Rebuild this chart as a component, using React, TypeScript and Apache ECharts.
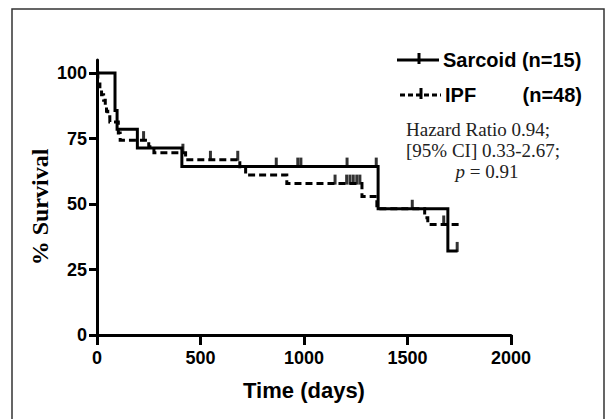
import React, { useEffect, useRef } from "react";
import * as echarts from "echarts";

// Kaplan-Meier steps (time in days, % survival)
const sarcoidTimes = [0, 87, 97, 195, 410, 1358, 1695, 1742];
const sarcoidSurv = [100, 85.7, 78.6, 71.4, 64.3, 48.2, 32.1, 32.1];
const sarcoidCensorTimes = [866, 970, 985, 1208, 1349, 1523, 1740];
const sarcoidCensorSurv = [64.3, 64.3, 64.3, 64.3, 64.3, 48.2, 32.1];

const ipfTimes = [0, 4, 8, 14, 22, 32, 40, 46, 52, 62, 103, 112, 250, 275, 428, 690, 718, 917, 1280, 1352, 1583, 1598, 1760];
const ipfSurv = [100, 97.9, 95.8, 93.8, 91.7, 89.6, 87.5, 85.4, 83.3, 81.3, 77.1, 74.4, 71.9, 69.6, 66.9, 64.2, 61.1, 57.8, 52.9, 48.2, 44.8, 42.2, 42.2];
const ipfCensorTimes = [225, 415, 548, 680, 1150, 1206, 1222, 1238, 1255, 1270, 1675];
const ipfCensorSurv = [74.4, 69.6, 66.9, 66.9, 57.8, 57.8, 57.8, 57.8, 57.8, 57.8, 42.2];

const yTicks = [0, 25, 50, 75, 100];

const zip = (a: number[], b: number[]) => a.map((v, i) => [v, b[i]]);

const SANS = "'Liberation Sans', Arial, sans-serif";
const SERIF = "'Liberation Serif', 'Times New Roman', serif";

export default function App() {
  const ref = useRef<HTMLDivElement>(null);
  useEffect(() => {
    if (!ref.current) return;
    const chart = echarts.init(ref.current, undefined, { renderer: "svg" });
    const censorSeries = (name: string, t: number[], s: number[]) => ({
      type: "scatter",
      name,
      data: zip(t, s),
      symbol: "rect",
      symbolSize: [3, 10],
      symbolOffset: [0, -4],
      itemStyle: { color: "#000" },
      silent: true,
      z: 3,
    });
    chart.setOption({
      animation: false,
      backgroundColor: "#fff",
      grid: { left: 97, right: 99, top: 60, bottom: 84, outerBoundsMode: "none" },
      xAxis: {
        type: "value",
        min: 0,
        max: 2000,
        interval: 500,
        name: "Time (days)",
        nameLocation: "middle",
        nameGap: 44,
        nameTextStyle: { fontFamily: SANS, fontWeight: "bold", fontSize: 22, color: "#000" },
        axisLine: { show: true, lineStyle: { color: "#000", width: 3 } },
        axisTick: { show: true, length: 10, lineStyle: { color: "#000", width: 3 } },
        axisLabel: {
          fontFamily: SANS,
          fontWeight: "bold",
          fontSize: 18,
          color: "#000",
          margin: 14,
          formatter: (v: number) => String(v),
        },
        splitLine: { show: false },
      },
      yAxis: {
        type: "value",
        min: 0,
        max: 105,
        axisLine: { show: true, lineStyle: { color: "#000", width: 3 } },
        axisTick: { show: true, length: 8, customValues: yTicks, lineStyle: { color: "#000", width: 3 } },
        axisLabel: {
          fontFamily: SANS,
          fontWeight: "bold",
          fontSize: 18,
          color: "#000",
          margin: 10,
          customValues: yTicks,
          formatter: (v: number) => String(v),
        },
        splitLine: { show: false },
      },
      series: [
        {
          type: "line",
          name: "Sarcoid (n=15)",
          step: "end",
          data: zip(sarcoidTimes, sarcoidSurv),
          showSymbol: false,
          symbol: "none",
          lineStyle: { color: "#000", width: 3, join: "miter", cap: "butt" },
          z: 2,
        },
        {
          type: "line",
          name: "IPF (n=48)",
          step: "end",
          data: zip(ipfTimes, ipfSurv),
          showSymbol: false,
          symbol: "none",
          lineStyle: { color: "#000", width: 3, type: [7, 4], join: "miter", cap: "butt" },
          z: 2,
        },
        censorSeries("Sarcoid censored", sarcoidCensorTimes, sarcoidCensorSurv),
        censorSeries("IPF censored", ipfCensorTimes, ipfCensorSurv),
      ],
      graphic: [
        {
          type: "rect",
          shape: { x: 12, y: 9, width: 592, height: 420 },
          style: { fill: "none", stroke: "#333", lineWidth: 1.5 },
          silent: true,
        },
        {
          type: "text",
          x: 40,
          y: 207,
          rotation: Math.PI / 2,
          style: {
            text: "% Survival",
            font: `bold 24px ${SERIF}`,
            fill: "#000",
            align: "center",
            verticalAlign: "middle",
          },
        },
        // legend: Sarcoid
        {
          type: "line",
          shape: { x1: 397, y1: 60, x2: 439, y2: 60 },
          style: { stroke: "#000", lineWidth: 3 },
        },
        {
          type: "line",
          shape: { x1: 419, y1: 53, x2: 419, y2: 64 },
          style: { stroke: "#000", lineWidth: 3 },
        },
        {
          type: "text",
          x: 443,
          y: 60,
          style: { text: "Sarcoid (n=15)", font: `bold 20px ${SANS}`, fill: "#000", align: "left", verticalAlign: "middle" },
        },
        // legend: IPF
        {
          type: "line",
          shape: { x1: 400, y1: 95, x2: 441, y2: 95 },
          style: { stroke: "#000", lineWidth: 3, lineDash: [5, 3] },
        },
        {
          type: "line",
          shape: { x1: 421, y1: 88, x2: 421, y2: 99 },
          style: { stroke: "#000", lineWidth: 3 },
        },
        {
          type: "text",
          x: 445,
          y: 95,
          style: { text: "IPF", font: `bold 20px ${SANS}`, fill: "#000", align: "left", verticalAlign: "middle" },
        },
        {
          type: "text",
          x: 582,
          y: 95,
          style: { text: "(n=48)", font: `bold 20px ${SANS}`, fill: "#000", align: "right", verticalAlign: "middle" },
        },
        // statistics annotation
        {
          type: "text",
          x: 406,
          y: 129,
          style: { text: "Hazard Ratio 0.94;", font: `19px ${SERIF}`, fill: "#222", align: "left", verticalAlign: "middle" },
        },
        {
          type: "text",
          x: 406,
          y: 150,
          style: { text: "[95% CI] 0.33-2.67;", font: `19px ${SERIF}`, fill: "#222", align: "left", verticalAlign: "middle" },
        },
        {
          type: "text",
          x: 487,
          y: 171,
          style: {
            text: "{i|p} = 0.91",
            font: `19px ${SERIF}`,
            fill: "#222",
            align: "center",
            verticalAlign: "middle",
            rich: {
              i: { fontFamily: SERIF, fontStyle: "italic", fontSize: 19, fill: "#222" },
            },
          },
        },
      ],
    });
    return () => chart.dispose();
  }, []);
  return (
    <div
      ref={ref}
      style={{ position: "absolute", left: 0, top: 0, width: 610, height: 419 }}
    />
  );
}
